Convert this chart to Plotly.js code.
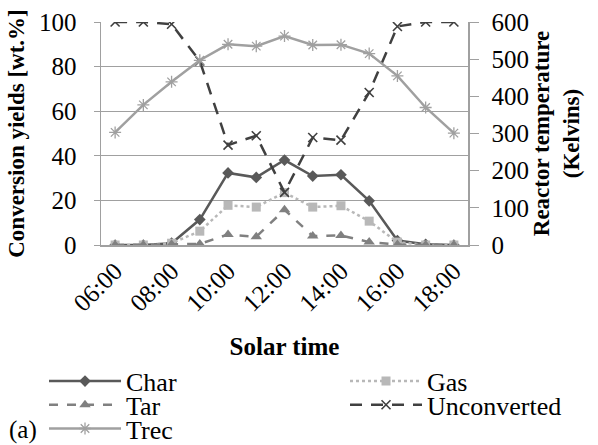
<!DOCTYPE html>
<html><head><meta charset="utf-8">
<script src="https://cdn.plot.ly/plotly-3.0.1.min.js"></script>
<style>html,body{margin:0;padding:0;background:#fff}#chart{width:598px;height:445px}</style>
</head><body><div id="chart"></div>
<script>
const times = ["06:00","07:00","08:00","09:00","10:00","11:00","12:00","13:00","14:00","15:00","16:00","17:00","18:00"];
const tickLabels = ["06:00","08:00","10:00","12:00","14:00","16:00","18:00"];
const charY = [0,0,0.8,11.4,32.3,30.3,38.1,30.9,31.5,19.8,2.0,0.3,0];
const gasY = [0,0,0.8,6.2,17.8,17.0,23.5,17.0,17.6,10.7,1.3,0,0];
const tarY = [0,0,0.3,0.5,4.7,3.7,15.8,4.0,4.3,1.3,0.2,0,0];
const unconvY = [100,100,99,82.5,44.8,49.0,23.6,48.2,47.0,68.4,98.0,100,100];
const trecK = [303,377,439,497,540,535,562,538,539,515,455,370,301];

const serif = "Liberation Serif";
const axisGray = "#a0a0a0";
const fs = 25;
const lfs = 26;

const traces = [
  {x: times, y: charY, name: "Char", mode: "lines+markers", yaxis: "y", legend: "legend",
   line: {color: "#595959", width: 2.5}, marker: {symbol: "diamond", size: 9, color: "#595959"}},
  {x: times, y: gasY, name: "Gas", mode: "lines+markers", yaxis: "y", legend: "legend2",
   line: {color: "#b8b8b8", width: 2.5, dash: "dot"}, marker: {symbol: "square", size: 9, color: "#b8b8b8"}},
  {x: times, y: tarY, name: "Tar", mode: "lines+markers", yaxis: "y", legend: "legend3",
   line: {color: "#808080", width: 2.5, dash: "dash"}, marker: {symbol: "triangle-up", size: 10, color: "#808080"}},
  {x: times, y: unconvY, name: "Unconverted", mode: "lines+markers", yaxis: "y", legend: "legend4",
   line: {color: "#404040", width: 2.5, dash: "12px,9px"}, marker: {symbol: "x-thin-open", size: 9, color: "#404040", line: {color: "#404040", width: 1.6}}},
  {x: times, y: trecK, name: "Trec", mode: "lines+markers", yaxis: "y2", legend: "legend5",
   line: {color: "#a0a0a0", width: 2.5}, marker: {symbol: "asterisk-open", size: 10, color: "#a0a0a0", line: {color: "#a0a0a0", width: 1.3}}}
];

function legendAt(x, yc) {
  return {orientation: "h", x: x, xanchor: "left", y: yc, yanchor: "middle", itemwidth: 72,
          font: {family: serif, size: lfs, color: "#000"}, bgcolor: "rgba(0,0,0,0)"};
}

const layout = {
  width: 598, height: 445,
  margin: {l: 101, r: 130, t: 22, b: 199.5, autoexpand: false},
  paper_bgcolor: "#fff", plot_bgcolor: "#fff",
  font: {family: serif, size: fs, color: "#000"},
  showlegend: true,
  legend: legendAt(-0.1553, -0.6107),
  legend2: legendAt(0.6649, -0.6107),
  legend3: legendAt(-0.1553, -0.7167),
  legend4: legendAt(0.6649, -0.7167),
  legend5: legendAt(-0.1553, -0.8233),
  xaxis: {type: "category", range: [-0.5, 12.5], tickmode: "array", tickvals: tickLabels, ticktext: tickLabels,
          tickangle: -45, showline: true, linecolor: axisGray, linewidth: 1.5, showgrid: false, ticks: "",
          automargin: false, tickfont: {family: serif, size: fs, color: "#000"},
          title: {text: "<b>Solar time</b>", font: {family: serif, size: 25, color: "#000"}, standoff: 22}},
  yaxis: {range: [0, 100], dtick: 20, ticks: "outside", ticklen: 6, tickcolor: axisGray, showline: true,
          linecolor: axisGray, linewidth: 1.5, gridcolor: axisGray, gridwidth: 1.2, zeroline: false,
          automargin: false, ticklabelstandoff: 12, tickfont: {family: serif, size: fs, color: "#000"},
          title: {text: "<b>Conversion yields [wt.%]</b>", font: {family: serif, size: 23, color: "#000"}, standoff: 8}},
  yaxis2: {range: [0, 600], dtick: 100, overlaying: "y", side: "right", ticks: "outside", ticklen: 9, tickcolor: axisGray,
           showline: true, linecolor: axisGray, linewidth: 1.5, showgrid: false, zeroline: false,
           automargin: false, ticklabelstandoff: 8, tickfont: {family: serif, size: fs, color: "#000"},
           title: {text: "<b>Reactor temperature<br>(Kelvins)</b>", font: {family: serif, size: 23, color: "#000"}, standoff: 2}},
  annotations: [
    {text: "(a)", xref: "paper", yref: "paper", x: -0.255, y: -0.83, xanchor: "left", yanchor: "middle",
     showarrow: false, font: {family: serif, size: 25, color: "#000"}}
  ]
};

Plotly.newPlot("chart", traces, layout, {displayModeBar: false, staticPlot: true});
</script></body></html>
